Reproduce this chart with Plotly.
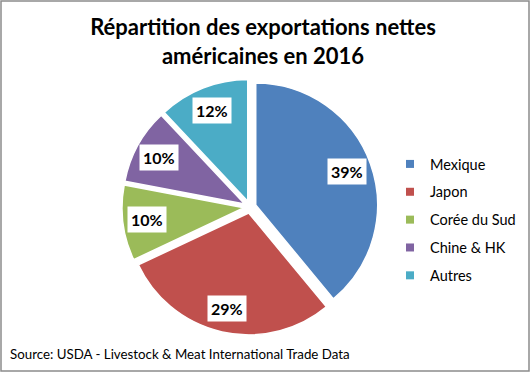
import math
import plotly.graph_objects as go

# ---- data ----
categories = ["Mexique", "Japon", "Corée du Sud", "Chine & HK", "Autres"]
shares = [39, 29, 10, 10, 12]
colors = ["#4F81BD", "#C0504D", "#9BBB59", "#8064A2", "#4BACC6"]
title_text = "Répartition des exportations nettes<br>américaines en 2016"
source_text = "Source: USDA - Livestock & Meat International Trade Data"

W, H = 530, 372
FONT = "Lato"

# pie geometry (pixels)
cx, cy, half = 250, 207, 128
pull = 0.05
r = half / (1 + pull)
dom_x = [(cx - half) / W, (cx + half) / W]
dom_y = [1 - (cy + half) / H, 1 - (cy - half) / H]

fig = go.Figure()
fig.add_trace(go.Pie(
    labels=categories, values=shares, sort=False, direction="clockwise",
    rotation=0, pull=[pull] * len(shares),
    marker=dict(colors=colors, line=dict(color="white", width=1.5)),
    textinfo="none", hoverinfo="label+percent", showlegend=False,
    domain=dict(x=dom_x, y=dom_y),
))

# legend entries (dummy traces so the items can be spaced like the original)
for i, (name, col) in enumerate(zip(categories, colors)):
    fig.add_trace(go.Scatter(
        x=[None], y=[None], mode="markers", name=name,
        marker=dict(symbol="square", size=8, color=col),
        legendgroup=f"g{i}", showlegend=True,
    ))

# percentage labels in white boxes, placed along each slice bisector
total = sum(shares)
cum = 0
annotations = []
for v in shares:
    mid = (cum + v / 2) / total * 2 * math.pi
    cum += v
    d = r * pull + 0.8 * r
    px = cx + d * math.sin(mid)
    py = cy - d * math.cos(mid)
    annotations.append(dict(
        x=px / W, y=1 - py / H, xref="paper", yref="paper",
        xanchor="center", yanchor="middle",
        text=f"<b>{round(v / total * 100)}%</b>", showarrow=False,
        font=dict(family=FONT, size=16, color="black"),
        bgcolor="white", borderpad=3,
    ))

annotations.append(dict(
    x=8 / W, y=1 - 354 / H, xref="paper", yref="paper",
    xanchor="left", yanchor="middle", text=source_text, showarrow=False,
    font=dict(family=FONT, size=13.3, color="black"),
))

fig.update_layout(
    width=W, height=H,
    margin=dict(l=0, r=0, t=0, b=0),
    paper_bgcolor="white", plot_bgcolor="white",
    title=dict(text=f"<b>{title_text}</b>", x=263 / W, xanchor="center",
               y=1 - 35 / H, yanchor="top", yref="container",
               font=dict(family=FONT, size=22, color="black")),
    xaxis=dict(visible=False), yaxis=dict(visible=False),
    legend=dict(x=390 / W, y=1 - 220 / H, xanchor="left", yanchor="middle",
                font=dict(family=FONT, size=14.5, color="black"),
                tracegroupgap=6, bgcolor="rgba(0,0,0,0)"),
    annotations=annotations,
    shapes=[dict(type="rect", xref="paper", yref="paper",
                 x0=1 / W, x1=1 - 1 / W, y0=1 / H, y1=1 - 1 / H,
                 line=dict(color="#8C8C8C", width=1.5))],
)

fig.write_html("out.html", config={"displayModeBar": False},
               post_script="document.body.style.margin='0';document.body.style.overflow='hidden';")
